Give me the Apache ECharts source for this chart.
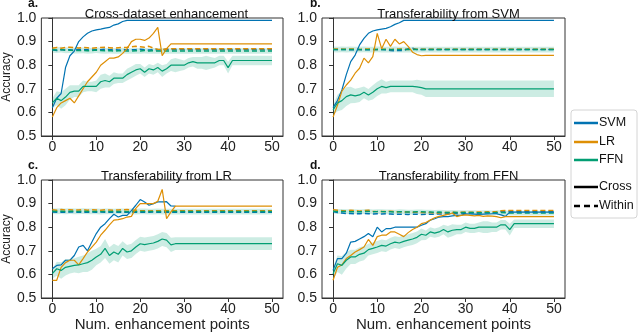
<!DOCTYPE html>
<html>
<head>
<meta charset="utf-8">
<script src="https://cdn.jsdelivr.net/npm/echarts@6/dist/echarts.min.js"></script>
<style>
  html, body { margin: 0; padding: 0; background: #fff; }
  #chart { width: 640px; height: 335px; }
</style>
</head>
<body>
<div id="chart"></div>
<script>
// tick labels
const xTicks = [0, 10, 20, 30, 40, 50]
const models = ['SVM', 'LR', 'FFN']
const titles = ['Cross-dataset enhancement', 'Transferability from SVM', 'Transferability from LR', 'Transferability from FFN']
const letters = ['a.', 'b.', 'c.', 'd.']

// a. cross-dataset enhancement (values at x = 0, 1, 2, ...)
const aSvm = [0.62, 0.66, 0.68, 0.79, 0.84, 0.86, 0.90, 0.92, 0.935, 0.945, 0.95, 0.953, 0.957, 0.96, 0.97, 0.975, 0.985, 0.99]
const aLr = [0.58, 0.62, 0.64, 0.65, 0.66, 0.64, 0.67, 0.70, 0.73, 0.75, 0.77, 0.80, 0.815, 0.83, 0.83, 0.835, 0.85, 0.87, 0.90, 0.91, 0.91, 0.905, 0.915, 0.935, 0.96, 0.84, 0.87, 0.89]
const aFfn = [0.64, 0.66, 0.65, 0.665, 0.685, 0.69, 0.69, 0.71, 0.71, 0.71, 0.71, 0.73, 0.735, 0.73, 0.745, 0.745, 0.745, 0.76, 0.77, 0.78, 0.785, 0.77, 0.785, 0.78, 0.79, 0.775, 0.785, 0.80, 0.80, 0.80, 0.80, 0.81, 0.815, 0.81, 0.81, 0.81, 0.81, 0.81, 0.82, 0.82, 0.79, 0.82]
const aFfnStd = [0.02, 0.03, 0.035, 0.035, 0.03, 0.025, 0.025, 0.025, 0.02, 0.02, 0.025, 0.03, 0.03, 0.025, 0.025, 0.02, 0.02, 0.025, 0.025, 0.025, 0.02, 0.02, 0.02, 0.02, 0.02, 0.025, 0.02, 0.025, 0.03, 0.025, 0.02, 0.02, 0.02, 0.025, 0.025, 0.03, 0.025, 0.02, 0.02, 0.02, 0.025, 0.02]
const aSvmW = [0.865, 0.862, 0.866, 0.864, 0.866, 0.863, 0.867, 0.866, 0.865, 0.864, 0.866, 0.865, 0.868, 0.865, 0.866, 0.864, 0.865, 0.866, 0.865, 0.866, 0.868, 0.866, 0.864, 0.866, 0.865, 0.866]
const aLrW = [0.872, 0.875, 0.872, 0.875, 0.876, 0.874, 0.873, 0.875, 0.874, 0.872, 0.874, 0.875, 0.876, 0.874, 0.872, 0.874, 0.875, 0.876, 0.878, 0.88, 0.878, 0.876, 0.88, 0.872, 0.868, 0.866, 0.87]
const aFfnW = [0.865, 0.864, 0.866, 0.863, 0.864, 0.862, 0.862, 0.863, 0.861, 0.862, 0.864, 0.862, 0.861, 0.862, 0.86, 0.861, 0.862, 0.86, 0.86, 0.861, 0.86, 0.862, 0.86, 0.861, 0.86, 0.86]

// b. transferability from SVM
const bSvm = [0.62, 0.65, 0.695, 0.76, 0.815, 0.843, 0.886, 0.914, 0.935, 0.945, 0.95, 0.953, 0.956, 0.963, 0.973, 0.98, 0.99]
const bLr = [0.58, 0.63, 0.69, 0.716, 0.737, 0.766, 0.787, 0.83, 0.81, 0.836, 0.935, 0.87, 0.91, 0.88, 0.91, 0.89, 0.90, 0.88, 0.855, 0.845, 0.84, 0.842]
const bFfn = [0.61, 0.64, 0.65, 0.667, 0.674, 0.67, 0.674, 0.685, 0.674, 0.685, 0.70, 0.71, 0.705, 0.71, 0.71, 0.71, 0.71, 0.71, 0.71, 0.708, 0.705, 0.70]
const bFfnStd = [0.02, 0.035, 0.04, 0.04, 0.035, 0.03, 0.03, 0.025, 0.025, 0.03, 0.03, 0.03, 0.025, 0.025, 0.025, 0.025, 0.025, 0.025, 0.025, 0.03, 0.03, 0.035]
const bSvmW = [0.866, 0.866, 0.867, 0.866, 0.865, 0.866, 0.866, 0.865, 0.866, 0.865, 0.866, 0.866, 0.865, 0.862, 0.861, 0.863, 0.862, 0.87, 0.872, 0.866]
const bLrW = [0.868, 0.869, 0.868, 0.867, 0.869, 0.868, 0.867, 0.868, 0.869, 0.868, 0.867, 0.868, 0.868, 0.867, 0.868, 0.869, 0.868, 0.867, 0.868, 0.868]
const bFfnW = [0.867, 0.866, 0.867, 0.866, 0.867, 0.866, 0.866, 0.867, 0.866, 0.866, 0.867, 0.866, 0.866, 0.866, 0.867, 0.866, 0.866, 0.866, 0.866, 0.866]

// c. transferability from LR
const cSvm = [0.624, 0.638, 0.64, 0.66, 0.66, 0.68, 0.716, 0.723, 0.70, 0.737, 0.773, 0.80, 0.815, 0.836, 0.855, 0.843, 0.85, 0.85, 0.87, 0.893, 0.917, 0.907, 0.893, 0.90, 0.907, 0.907, 0.908, 0.89, 0.889]
const cLr = [0.575, 0.575, 0.63, 0.65, 0.66, 0.66, 0.64, 0.667, 0.695, 0.716, 0.737, 0.766, 0.787, 0.81, 0.83, 0.832, 0.836, 0.843, 0.846, 0.88, 0.90, 0.90, 0.90, 0.90, 0.91, 0.96, 0.836, 0.865, 0.889]
const cFfn = [0.603, 0.624, 0.617, 0.63, 0.634, 0.638, 0.64, 0.645, 0.65, 0.66, 0.674, 0.685, 0.71, 0.68, 0.695, 0.685, 0.71, 0.695, 0.70, 0.716, 0.73, 0.726, 0.73, 0.733, 0.74, 0.75, 0.745, 0.725, 0.73]
const cFfnStd = [0.02, 0.03, 0.035, 0.035, 0.03, 0.03, 0.035, 0.035, 0.04, 0.04, 0.035, 0.035, 0.04, 0.035, 0.035, 0.035, 0.03, 0.03, 0.03, 0.03, 0.03, 0.03, 0.03, 0.03, 0.03, 0.03, 0.03, 0.03, 0.027]
const cSvmW = [0.864, 0.863, 0.864, 0.863, 0.864, 0.864, 0.863, 0.864, 0.863, 0.864, 0.863, 0.864, 0.863, 0.864, 0.863, 0.864, 0.863, 0.864, 0.863, 0.864, 0.863, 0.864, 0.863, 0.864, 0.863, 0.864, 0.863, 0.864, 0.863]
const cLrW = [0.874, 0.872, 0.875, 0.873, 0.874, 0.872, 0.873, 0.875, 0.872, 0.874, 0.873, 0.872, 0.874, 0.873, 0.872, 0.873, 0.874, 0.875, 0.873, 0.872, 0.87, 0.87, 0.869, 0.87, 0.87, 0.869, 0.87, 0.87, 0.87]
const cFfnW = [0.868, 0.867, 0.868, 0.867, 0.868, 0.867, 0.867, 0.868, 0.867, 0.867, 0.867, 0.866, 0.867, 0.867, 0.866, 0.867, 0.867, 0.866, 0.867, 0.866, 0.867, 0.867, 0.866, 0.866, 0.867, 0.866, 0.866, 0.866, 0.866]

// d. transferability from FFN
const dSvm = [0.617, 0.667, 0.667, 0.69, 0.737, 0.74, 0.75, 0.76, 0.773, 0.76, 0.80, 0.78, 0.794, 0.794, 0.80, 0.80, 0.80, 0.80, 0.80, 0.80, 0.808, 0.815, 0.83, 0.836, 0.843, 0.845, 0.845, 0.848, 0.85, 0.85, 0.857, 0.856, 0.855, 0.854, 0.855, 0.856, 0.857, 0.857, 0.852, 0.846, 0.864]
const dLr = [0.575, 0.63, 0.64, 0.667, 0.68, 0.695, 0.705, 0.716, 0.748, 0.723, 0.76, 0.766, 0.766, 0.78, 0.78, 0.77, 0.76, 0.777, 0.79, 0.80, 0.815, 0.82, 0.83, 0.84, 0.846, 0.85, 0.854, 0.86, 0.845, 0.85, 0.852, 0.85, 0.848, 0.85, 0.846, 0.848, 0.847, 0.845, 0.84, 0.845, 0.845]
const dFfn = [0.603, 0.645, 0.638, 0.66, 0.674, 0.674, 0.685, 0.69, 0.705, 0.71, 0.716, 0.723, 0.72, 0.73, 0.737, 0.733, 0.74, 0.745, 0.75, 0.757, 0.77, 0.766, 0.78, 0.775, 0.78, 0.79, 0.78, 0.787, 0.79, 0.79, 0.80, 0.795, 0.795, 0.80, 0.80, 0.80, 0.80, 0.80, 0.81, 0.81, 0.79, 0.815]
const dFfnStd = [0.025, 0.035, 0.04, 0.035, 0.03, 0.03, 0.03, 0.03, 0.025, 0.025, 0.025, 0.025, 0.025, 0.025, 0.025, 0.025, 0.025, 0.025, 0.025, 0.025, 0.025, 0.02, 0.02, 0.02, 0.02, 0.02, 0.025, 0.025, 0.02, 0.02, 0.02, 0.02, 0.02, 0.02, 0.025, 0.025, 0.02, 0.02, 0.02, 0.02, 0.025, 0.018]
const dSvmW = [0.866, 0.862, 0.86, 0.858, 0.858, 0.857, 0.857, 0.858, 0.857, 0.856, 0.857, 0.856, 0.857, 0.856, 0.855, 0.855, 0.855, 0.854, 0.855, 0.855, 0.854, 0.855, 0.855, 0.855, 0.856, 0.856, 0.857, 0.858, 0.858, 0.86, 0.858, 0.86, 0.86, 0.86, 0.862, 0.86, 0.862, 0.86, 0.866, 0.866, 0.866]
const dLrW = [0.874, 0.872, 0.87, 0.868, 0.872, 0.87, 0.868, 0.871, 0.872, 0.868, 0.866, 0.867, 0.866, 0.868, 0.866, 0.865, 0.864, 0.864, 0.863, 0.863, 0.862, 0.862, 0.862, 0.86, 0.861, 0.862, 0.862, 0.863, 0.862, 0.863, 0.864, 0.863, 0.864, 0.864, 0.864, 0.865, 0.865, 0.866, 0.87, 0.871, 0.871]
const dFfnW = [0.868, 0.866, 0.867, 0.866, 0.865, 0.866, 0.865, 0.866, 0.867, 0.865, 0.866, 0.866, 0.865, 0.865, 0.864, 0.866, 0.865, 0.864, 0.864, 0.865, 0.865, 0.864, 0.864, 0.863, 0.864, 0.863, 0.862, 0.863, 0.862, 0.862, 0.862, 0.862, 0.862, 0.861, 0.862, 0.862, 0.861, 0.862, 0.862, 0.861, 0.86]

// half width of the within-dataset FFN band, per panel
const withinStd = [0.012, 0.012, 0.012, 0.01]

const colors = { SVM: '#0173B2', LR: '#DE8F05', FFN: '#029E73' }
const bandColor = 'rgba(2, 158, 115, 0.2)'
const font = "'Liberation Sans', Arial, sans-serif"

// grids: a, b, c, d
const gridPos = [
  { left: 40, top: 18 },
  { left: 322, top: 18 },
  { left: 40, top: 180 },
  { left: 322, top: 180 }
]
const gw = 243, gh = 118

const panels = [
  { svm: aSvm, lr: aLr, ffn: aFfn, std: aFfnStd, svmW: aSvmW, lrW: aLrW, ffnW: aFfnW, svmEnd: 50 },
  { svm: bSvm, lr: bLr, ffn: bFfn, std: bFfnStd, svmW: bSvmW, lrW: bLrW, ffnW: bFfnW, svmEnd: 50 },
  { svm: cSvm, lr: cLr, ffn: cFfn, std: cFfnStd, svmW: cSvmW, lrW: cLrW, ffnW: cFfnW, svmEnd: null },
  { svm: dSvm, lr: dLr, ffn: dFfn, std: dFfnStd, svmW: dSvmW, lrW: dLrW, ffnW: dFfnW, svmEnd: 50 }
]

// values sit at x = 0, 1, 2 ...; last value is held flat out to `end`
function pts(vals, end) {
  const out = vals.map((v, i) => [i, v])
  if (end) out.push([end, vals[vals.length - 1]])
  return out
}

function line(g, name, vals, end, dashed) {
  return {
    type: 'line', name, xAxisIndex: g, yAxisIndex: g,
    data: pts(vals, end), symbol: 'none', silent: true,
    z: dashed ? 3 : 4,
    lineStyle: { color: colors[name], width: dashed ? 1.5 : 1.2, type: dashed ? [5, 3] : 'solid' }
  }
}

function band(g, mean, std, end) {
  const lo = pts(mean.map((v, i) => v - std[i]), end)
  const hi = pts(mean.map((v, i) => v + std[i]), end)
  return {
    type: 'custom', xAxisIndex: g, yAxisIndex: g, silent: true, z: 2,
    data: hi.map((p, i) => [p[0], lo[i][1], p[1]]),
    encode: { x: 0, y: [1, 2] },
    renderItem(params, api) {
      if (params.dataIndex !== 0) return null
      const top = hi.map(p => api.coord(p))
      const bot = lo.map(p => api.coord(p)).reverse()
      return { type: 'polygon', shape: { points: top.concat(bot) }, style: { fill: bandColor } }
    }
  }
}

const grid = [], xAxis = [], yAxis = [], series = [], title = [], graphic = []

gridPos.forEach((p, g) => {
  grid.push({ left: p.left, top: p.top, width: gw, height: gh, show: true, borderColor: '#333', borderWidth: 1 })
  xAxis.push({
    gridIndex: g, type: 'value', min: -2.5, max: 52.5,
    name: g >= 2 ? 'Num. enhancement points' : '',
    nameLocation: 'middle', nameGap: 17,
    nameTextStyle: { fontFamily: font, fontSize: 15, color: '#222' },
    axisLine: { show: true, onZero: false, lineStyle: { color: '#333' } },
    axisTick: { show: true, customValues: xTicks, length: 4, lineStyle: { color: '#333' } },
    axisLabel: { customValues: xTicks, fontFamily: font, fontSize: 14, color: '#222', margin: 4 },
    splitLine: { show: false }
  })
  yAxis.push({
    gridIndex: g, type: 'value', min: 0.5, max: 1.0, interval: 0.1,
    name: g % 2 === 0 ? 'Accuracy' : '',
    nameLocation: 'middle', nameGap: 25,
    nameTextStyle: { fontFamily: font, fontSize: 12, color: '#222' },
    axisLine: { show: true, lineStyle: { color: '#333' } },
    axisTick: { show: true, length: 4, lineStyle: { color: '#333' } },
    axisLabel: { fontFamily: font, fontSize: 14, color: '#222', margin: 5, formatter: v => v.toFixed(1) },
    splitLine: { show: false }
  })
  title.push({
    text: titles[g], left: p.left + gw / 2, top: p.top - 15, textAlign: 'center',
    textStyle: { fontFamily: font, fontSize: 13, fontWeight: 'normal', color: '#111' }
  })
  graphic.push({
    type: 'text', x: p.left - 12, y: p.top - 14,
    style: { text: letters[g], font: 'bold 12px ' + font, fill: '#111', verticalAlign: 'middle' }
  })

  const d = panels[g]
  series.push(band(g, d.ffn, d.std, 50))
  series.push(band(g, d.ffnW, d.ffnW.map(() => withinStd[g]), 50))
  series.push(line(g, 'SVM', d.svmW, 50, true))
  series.push(line(g, 'LR', d.lrW, 50, true))
  series.push(line(g, 'FFN', d.ffnW, 50, true))
  series.push(line(g, 'SVM', d.svm, d.svmEnd, false))
  series.push(line(g, 'LR', d.lr, 50, false))
  series.push(line(g, 'FFN', d.ffn, 50, false))
})

// legend box
const legendRows = [
  { text: models[0], stroke: colors.SVM, y: 123 },
  { text: models[1], stroke: colors.LR, y: 142 },
  { text: models[2], stroke: colors.FFN, y: 160 },
  { text: 'Cross', stroke: '#000', y: 187 },
  { text: 'Within', stroke: '#000', y: 206, dash: [6, 4] }
]
graphic.push({
  type: 'rect', shape: { x: 571, y: 110, width: 66, height: 108, r: 3 },
  style: { fill: '#fff', stroke: '#d4d4d4', lineWidth: 1 }, z: 10
})
legendRows.forEach(r => {
  graphic.push({
    type: 'line', shape: { x1: 574, y1: r.y, x2: 598, y2: r.y }, z: 11,
    style: { stroke: r.stroke, lineWidth: 2.5, lineDash: r.dash || null }
  })
  graphic.push({
    type: 'text', x: 599, y: r.y, z: 11,
    style: { text: r.text, font: '12.5px ' + font, fill: '#111', verticalAlign: 'middle' }
  })
})

const myChart = echarts.init(document.getElementById('chart'), null, { renderer: 'canvas' })
const option = {
  animation: false,
  backgroundColor: '#fff',
  title, grid, xAxis, yAxis, series, graphic
}
myChart.setOption(option)
</script>
</body>
</html>
